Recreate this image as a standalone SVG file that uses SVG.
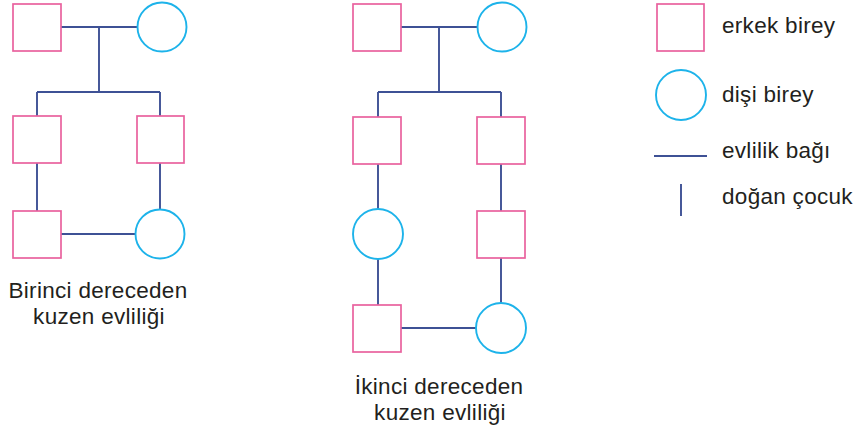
<svg xmlns="http://www.w3.org/2000/svg" width="858" height="430" viewBox="0 0 858 430">
<style>
.m{fill:#fff;stroke:#E9629E;stroke-width:1.7}
.f{fill:#fff;stroke:#1DB3EA;stroke-width:1.9}
.l{fill:none;stroke:#3E5195;stroke-width:1.9}
text{font-family:"Liberation Sans",Arial,sans-serif;font-size:22.5px;fill:#231F20;letter-spacing:0.3px}
.c{text-anchor:middle}
</style>
<rect width="858" height="430" fill="#fff"/>
<g id="connectors">
<path class="l" d="M61 27H137M99 27V92M37 92H160M37 92V116M160 92V116M37 163V211M160 163V210M61 234H136"/>
<path class="l" d="M401 27H477M439 27V92M378 92H501M378 92V117M501 92V117M378 164V209M501 164V211M501 258V303M378 259V305M401 328H476"/>
<path class="l" d="M654 156H707M681 184V216"/>
</g>
<g id="left-grandfather"><rect class="m" x="13" y="4" width="48" height="47"/></g>
<g id="left-grandmother"><circle class="f" cx="162" cy="27" r="24.5"/></g>
<g id="left-child1"><rect class="m" x="13" y="116" width="48" height="47"/></g>
<g id="left-child2"><rect class="m" x="137" y="116" width="47" height="47"/></g>
<g id="left-cousin1"><rect class="m" x="13" y="211" width="48" height="47"/></g>
<g id="left-cousin2"><circle class="f" cx="160" cy="234" r="24.5"/></g>
<g id="left-label"><text class="c" x="98" y="298">Birinci dereceden</text><text class="c" x="99" y="324">kuzen evliliği</text></g>
<g id="mid-grandfather"><rect class="m" x="353" y="4" width="48" height="47"/></g>
<g id="mid-grandmother"><circle class="f" cx="502" cy="27" r="24.5"/></g>
<g id="mid-child1"><rect class="m" x="353" y="117" width="48" height="47"/></g>
<g id="mid-child2"><rect class="m" x="477" y="117" width="48" height="47"/></g>
<g id="mid-gc1"><circle class="f" cx="378" cy="234" r="25"/></g>
<g id="mid-gc2"><rect class="m" x="477" y="211" width="48" height="47"/></g>
<g id="mid-ggc1"><rect class="m" x="353" y="305" width="48" height="47"/></g>
<g id="mid-ggc2"><circle class="f" cx="501" cy="328" r="25"/></g>
<g id="mid-label"><text class="c" x="439" y="394">İkinci dereceden</text><text class="c" x="440" y="420">kuzen evliliği</text></g>
<g id="legend-male"><rect class="m" x="657" y="4" width="47" height="47"/><text x="722" y="33">erkek birey</text></g>
<g id="legend-female"><circle class="f" cx="681" cy="95" r="25"/><text x="722" y="102">dişi birey</text></g>
<g id="legend-marriage"><text x="722" y="158">evlilik bağı</text></g>
<g id="legend-child"><text x="722" y="204">doğan çocuk</text></g>
</svg>
